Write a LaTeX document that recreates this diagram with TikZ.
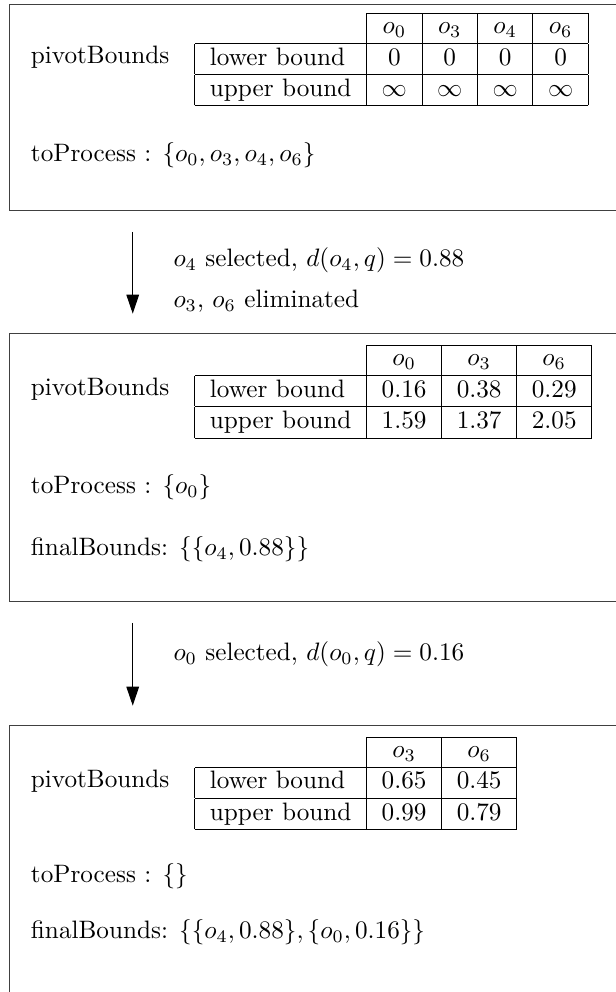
\documentclass[tikz,border=0pt]{standalone}
\usepackage{amsmath,amssymb}
\usepackage{tikz}
\usetikzlibrary{arrows.meta}

\begin{document}
\begin{tikzpicture}[
	box/.style={draw=black!75, minimum width=9cm, inner sep=0, anchor=north west},
	txt/.style={anchor=base west, inner sep=0},
	tab/.style={anchor=north west, inner sep=0},
	flow/.style={-{Triangle[length=7.5pt,width=5pt]}, shorten <=0.29cm, shorten >=0.27cm}]
	\useasboundingbox (0,0) rectangle (8.59,13.835);
	\clip (0,0) rectangle (8.59,13.835);

	\node[box, minimum height=2.874cm] (box1) at (0.126,13.78) {};
	\node[txt] (piv1) at (0.425,12.943) {pivotBounds};
	\node[tab] (tab1) at (2.71,13.664) {%
		\begin{tabular}{|l|c|c|c|c|}
			\cline{2-5}
			\multicolumn{1}{l|}{} & $o_0$ & $o_3$ & $o_4$ & $o_6$ \\ \hline
			lower bound & 0 & 0 & 0 & 0 \\ \hline
			upper bound & $\infty$ & $\infty$ & $\infty$ & $\infty$ \\ \hline
		\end{tabular}};
	\node[txt] (proc1) at (0.425,11.576) {toProcess : $\{o_0, o_3, o_4, o_6\}$};

	\node[txt] (sel1) at (2.413,10.112) {$o_4$ selected, $d(o_4,q) = 0.88$};
	\node[txt] (elim1) at (2.413,9.547) {$o_3$, $o_6$ eliminated};

	\node[box, minimum height=3.738cm] (box2) at (0.126,9.191) {};
	\node[txt] (piv2) at (0.425,8.312) {pivotBounds};
	\node[tab] (tab2) at (2.71,9.033) {%
		\begin{tabular}{|l|c|c|c|}
			\cline{2-4}
			\multicolumn{1}{l|}{} & $o_0$ & $o_3$ & $o_6$ \\ \hline
			lower bound & 0.16 & 0.38 & 0.29 \\ \hline
			upper bound & 1.59 & 1.37 & 2.05 \\ \hline
		\end{tabular}};
	\node[txt] (proc2) at (0.425,6.95) {toProcess : $\{o_0\}$};
	\node[txt] (fin2) at (0.425,6.089) {finalBounds: $\{\{o_4, 0.88\}\}$};

	\node[txt] (sel2) at (2.413,4.621) {$o_0$ selected, $d(o_0,q) = 0.16$};

	\node[box, minimum height=3.738cm] (box3) at (0.126,3.724) {};
	\node[txt] (piv3) at (0.425,2.848) {pivotBounds};
	\node[tab] (tab3) at (2.71,3.57) {%
		\begin{tabular}{|l|c|c|}
			\cline{2-3}
			\multicolumn{1}{l|}{} & $o_3$ & $o_6$ \\ \hline
			lower bound & 0.65 & 0.45 \\ \hline
			upper bound & 0.99 & 0.79 \\ \hline
		\end{tabular}};
	\node[txt] (proc3) at (0.425,1.534) {toProcess : $\{\}$};
	\node[txt] (fin3) at (0.425,0.743) {finalBounds: $\{\{o_4, 0.88\}, \{o_0, 0.16\}\}$};

	\draw[flow] ([xshift=1.725cm]box1.south west) -- ([xshift=1.725cm]box2.north west);
	\draw[flow] ([xshift=1.725cm]box2.south west) -- ([xshift=1.725cm]box3.north west);
\end{tikzpicture}
\end{document}
